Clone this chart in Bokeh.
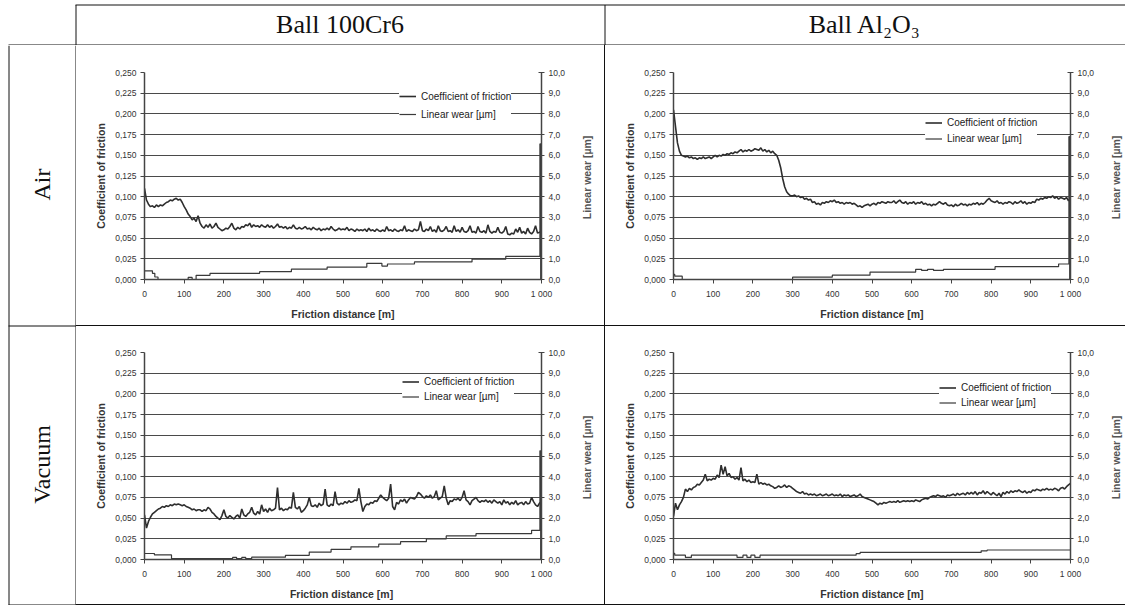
import math
from bokeh.plotting import figure
from bokeh.models import Range1d, LinearAxis, FixedTicker, Legend, LegendItem, Spacer
from bokeh.layouts import row, column
from bokeh.embed import file_html
from bokeh.resources import INLINE
from bokeh.core.properties import value

# ---------------- data ----------------
distance_m = list(range(0, 1001, 5))

cof_air_100cr6 = [
    0.110, 0.096, 0.091, 0.088, 0.089, 0.087, 0.090, 0.088, 0.090, 0.089,
    0.091, 0.093, 0.094, 0.096, 0.095, 0.097, 0.098, 0.096, 0.097, 0.093,
    0.088, 0.084, 0.079, 0.076, 0.072, 0.074, 0.070, 0.077, 0.068, 0.064,
    0.062, 0.066, 0.063, 0.067, 0.062, 0.064, 0.068, 0.063, 0.061, 0.059,
    0.060, 0.062, 0.061, 0.064, 0.068, 0.062, 0.060, 0.063, 0.061, 0.064,
    0.063, 0.066, 0.065, 0.068, 0.063, 0.066, 0.064, 0.065, 0.063, 0.066,
    0.064, 0.063, 0.066, 0.063, 0.065, 0.062, 0.064, 0.067, 0.063, 0.064,
    0.062, 0.064, 0.061, 0.063, 0.062, 0.066, 0.062, 0.061, 0.063, 0.061,
    0.062, 0.064, 0.061, 0.062, 0.060, 0.063, 0.061, 0.060, 0.062, 0.059,
    0.061, 0.060, 0.062, 0.060, 0.064, 0.061, 0.059, 0.060, 0.062, 0.060,
    0.061, 0.060, 0.063, 0.059, 0.061, 0.060, 0.058, 0.061, 0.059, 0.060,
    0.059, 0.061, 0.058, 0.062, 0.059, 0.060, 0.058, 0.061, 0.059, 0.058,
    0.060, 0.058, 0.064, 0.059, 0.060, 0.058, 0.061, 0.059, 0.058, 0.060,
    0.059, 0.065, 0.058, 0.060, 0.059, 0.058, 0.061, 0.059, 0.060, 0.070,
    0.059, 0.058, 0.061, 0.059, 0.064, 0.058, 0.060, 0.057, 0.065, 0.059,
    0.058, 0.060, 0.064, 0.058, 0.059, 0.057, 0.065, 0.058, 0.060, 0.057,
    0.063, 0.058, 0.057, 0.059, 0.065, 0.057, 0.058, 0.056, 0.064, 0.058,
    0.057, 0.059, 0.056, 0.066, 0.058, 0.056, 0.058, 0.057, 0.063, 0.057,
    0.056, 0.058, 0.064, 0.055, 0.054, 0.056, 0.055, 0.061, 0.057, 0.063,
    0.056, 0.058, 0.055, 0.062, 0.057, 0.055, 0.058, 0.065, 0.056, 0.057,
    0.058,
]

cof_air_al2o3 = [
    0.205, 0.185, 0.165, 0.155, 0.150, 0.149, 0.148, 0.149, 0.147, 0.148,
    0.146, 0.147, 0.145, 0.147, 0.146, 0.148, 0.146, 0.147, 0.148, 0.146,
    0.148, 0.150, 0.148, 0.150, 0.149, 0.151, 0.150, 0.152, 0.151, 0.153,
    0.152, 0.154, 0.153, 0.155, 0.157, 0.154, 0.156, 0.155, 0.157, 0.155,
    0.156, 0.158, 0.157, 0.156, 0.159, 0.155, 0.157, 0.154, 0.156, 0.153,
    0.155, 0.152, 0.150, 0.144, 0.135, 0.122, 0.112, 0.106, 0.103, 0.101,
    0.101, 0.102, 0.100, 0.101, 0.099, 0.100, 0.097, 0.098, 0.096, 0.097,
    0.093, 0.094, 0.091, 0.092, 0.090, 0.093, 0.092, 0.094, 0.093, 0.095,
    0.094, 0.096, 0.093, 0.094, 0.092, 0.093, 0.091, 0.093, 0.092, 0.093,
    0.091, 0.092, 0.090, 0.088, 0.089, 0.087, 0.089, 0.090, 0.091, 0.089,
    0.091, 0.092, 0.090, 0.093, 0.092, 0.094, 0.093, 0.092, 0.094, 0.093,
    0.093, 0.095, 0.092, 0.094, 0.096, 0.093, 0.092, 0.094, 0.091, 0.093,
    0.092, 0.094, 0.091, 0.093, 0.092, 0.094, 0.091, 0.092, 0.090, 0.091,
    0.089, 0.091, 0.090, 0.092, 0.094, 0.092, 0.091, 0.093, 0.090, 0.089,
    0.090, 0.088, 0.091, 0.089, 0.090, 0.092, 0.090, 0.091, 0.089, 0.091,
    0.090, 0.092, 0.091, 0.093, 0.090, 0.092, 0.091, 0.093, 0.096, 0.098,
    0.095, 0.094, 0.093, 0.095, 0.092, 0.093, 0.091, 0.093, 0.092, 0.094,
    0.093, 0.091, 0.094, 0.092, 0.093, 0.095, 0.092, 0.094, 0.091, 0.093,
    0.092, 0.094, 0.093, 0.097, 0.096, 0.098, 0.097, 0.099, 0.098, 0.100,
    0.099, 0.101, 0.098, 0.100, 0.097, 0.099, 0.098, 0.097, 0.099, 0.095,
    0.098,
]

cof_vac_100cr6 = [
    0.054, 0.038, 0.046, 0.051, 0.055, 0.057, 0.059, 0.061, 0.062, 0.064,
    0.063, 0.065, 0.064, 0.066, 0.065, 0.067, 0.066, 0.067, 0.066, 0.065,
    0.066, 0.064, 0.063, 0.062, 0.060, 0.061, 0.059, 0.060, 0.060, 0.058,
    0.060, 0.059, 0.063, 0.061, 0.057, 0.055, 0.052, 0.050, 0.048, 0.053,
    0.060, 0.052, 0.050, 0.053, 0.051, 0.049, 0.052, 0.054, 0.050, 0.061,
    0.054, 0.052, 0.055, 0.057, 0.063, 0.056, 0.054, 0.058, 0.055, 0.066,
    0.058, 0.061, 0.057, 0.062, 0.059, 0.060, 0.062, 0.087, 0.060, 0.062,
    0.059, 0.061, 0.060, 0.063, 0.062, 0.081, 0.063, 0.061, 0.064, 0.057,
    0.059, 0.062, 0.066, 0.075, 0.065, 0.064, 0.066, 0.063, 0.068, 0.065,
    0.067, 0.085, 0.066, 0.064, 0.067, 0.065, 0.082, 0.068, 0.066, 0.068,
    0.067, 0.070, 0.068, 0.071, 0.069, 0.070, 0.072, 0.071, 0.086, 0.070,
    0.058, 0.064, 0.067, 0.066, 0.069, 0.068, 0.071, 0.070, 0.074, 0.078,
    0.075, 0.073, 0.071, 0.074, 0.091, 0.064, 0.060, 0.069, 0.067, 0.072,
    0.070, 0.073, 0.068, 0.072, 0.075, 0.074, 0.073, 0.076, 0.081, 0.079,
    0.076, 0.074, 0.077, 0.075, 0.078, 0.074, 0.076, 0.083, 0.072, 0.074,
    0.076, 0.089, 0.074, 0.066, 0.071, 0.070, 0.073, 0.072, 0.074, 0.071,
    0.075, 0.083, 0.072, 0.070, 0.066, 0.071, 0.073, 0.075, 0.071, 0.069,
    0.071, 0.070, 0.072, 0.069, 0.071, 0.068, 0.072, 0.070, 0.068, 0.070,
    0.066, 0.072, 0.068, 0.070, 0.066, 0.069, 0.067, 0.071, 0.066, 0.068,
    0.069, 0.066, 0.070, 0.067, 0.068, 0.075, 0.070, 0.066, 0.064, 0.068,
    0.070,
]

cof_vac_al2o3 = [
    0.052, 0.068, 0.060, 0.066, 0.070, 0.075, 0.085, 0.082, 0.086, 0.084,
    0.087, 0.088, 0.091, 0.090, 0.093, 0.096, 0.103, 0.095, 0.097, 0.096,
    0.098, 0.097, 0.102, 0.099, 0.114, 0.103, 0.112, 0.101, 0.104, 0.099,
    0.100, 0.097, 0.099, 0.096, 0.111, 0.095, 0.097, 0.094, 0.096, 0.093,
    0.094, 0.093, 0.103, 0.091, 0.093, 0.091, 0.092, 0.090, 0.091, 0.089,
    0.088, 0.086, 0.087, 0.089, 0.087, 0.088, 0.090, 0.087, 0.089, 0.088,
    0.086, 0.084, 0.082, 0.081, 0.080, 0.082, 0.079, 0.080, 0.078, 0.079,
    0.078, 0.079, 0.077, 0.078, 0.079, 0.077, 0.078, 0.079, 0.077, 0.078,
    0.079, 0.077, 0.078, 0.077, 0.079, 0.076, 0.078, 0.077, 0.078, 0.076,
    0.077, 0.078, 0.076, 0.077, 0.079, 0.076, 0.075, 0.074, 0.073, 0.072,
    0.071, 0.070, 0.068, 0.066, 0.068, 0.067, 0.069, 0.068, 0.069, 0.070,
    0.069, 0.070, 0.069, 0.071, 0.069, 0.070, 0.071, 0.070, 0.071, 0.070,
    0.071, 0.070, 0.072, 0.071, 0.070, 0.072, 0.073, 0.074, 0.073, 0.075,
    0.076, 0.077, 0.076, 0.078, 0.077, 0.076, 0.077, 0.075, 0.078, 0.077,
    0.078, 0.079, 0.077, 0.080, 0.078, 0.079, 0.080, 0.078, 0.081, 0.079,
    0.081, 0.079, 0.082, 0.078, 0.081, 0.080, 0.083, 0.079, 0.082, 0.080,
    0.078, 0.081, 0.079, 0.077, 0.080, 0.076, 0.081, 0.079, 0.082, 0.080,
    0.083, 0.081, 0.083, 0.082, 0.084, 0.082, 0.081, 0.083, 0.080, 0.082,
    0.081, 0.084, 0.083, 0.085, 0.084, 0.083, 0.085, 0.084, 0.086, 0.084,
    0.085, 0.084, 0.086, 0.085, 0.083, 0.086, 0.087, 0.085, 0.088, 0.090,
    0.092,
]

wear_air_100cr6_x = [0, 20, 26, 34, 110, 120, 130, 165, 290, 370, 460, 560, 598, 612, 680, 825, 910, 996, 998, 1000]
wear_air_100cr6_y = [0.42, 0.30, 0.12, 0.0, 0.10, 0.0, 0.20, 0.30, 0.38, 0.50, 0.60, 0.78, 0.65, 0.75, 0.85, 0.98, 1.12, 6.55, 0.0, 0.0]

wear_air_al2o3_x = [0, 3, 22, 300, 400, 495, 610, 625, 640, 655, 680, 810, 970, 996, 998, 1000]
wear_air_al2o3_y = [0.25, 0.16, 0.0, 0.11, 0.21, 0.36, 0.49, 0.44, 0.49, 0.44, 0.49, 0.62, 0.75, 6.9, 0.0, 0.0]

wear_vac_100cr6_x = [0, 25, 68, 222, 232, 245, 255, 270, 355, 415, 470, 520, 590, 645, 710, 760, 835, 975, 996, 998, 1000]
wear_vac_100cr6_y = [0.29, 0.22, 0.04, 0.10, 0.04, 0.10, 0.04, 0.11, 0.20, 0.36, 0.49, 0.61, 0.74, 0.86, 0.99, 1.14, 1.25, 1.41, 5.25, 0.0, 0.0]

wear_vac_al2o3_x = [0, 3, 30, 45, 160, 175, 185, 195, 205, 218, 460, 470, 775, 790, 1000]
wear_vac_al2o3_y = [0.30, 0.21, 0.10, 0.21, 0.10, 0.21, 0.10, 0.21, 0.10, 0.21, 0.28, 0.34, 0.42, 0.46, 0.46]

cof_ticks = [0.0, 0.025, 0.05, 0.075, 0.1, 0.125, 0.15, 0.175, 0.2, 0.225, 0.25]
cof_tick_labels = ["0,000", "0,025", "0,050", "0,075", "0,100", "0,125", "0,150", "0,175", "0,200", "0,225", "0,250"]
wear_ticks = [0, 1, 2, 3, 4, 5, 6, 7, 8, 9, 10]
wear_tick_labels = ["0,0", "1,0", "2,0", "3,0", "4,0", "5,0", "6,0", "7,0", "8,0", "9,0", "10,0"]
dist_ticks = [0, 100, 200, 300, 400, 500, 600, 700, 800, 900, 1000]
dist_tick_labels = ["0", "100", "200", "300", "400", "500", "600", "700", "800", "900", "1 000"]

column_titles = ["Ball 100Cr6", "Ball Al\u2082O\u2083"]
row_titles = ["Air", "Vacuum"]
legend_labels = ["Coefficient of friction", "Linear wear [\u00b5m]"]
cof_axis_label = "Coefficient of friction"
wear_axis_label = "Linear wear  [\u00b5m]"

# ---------------- style ----------------
SANS = "Liberation Sans"
SERIF = "Liberation Serif"
INK = "#333333"
RULE = "#111111"


def chart(cof, wx, wy, w, h, ml, mr, mt, mb, xlabel, leg):
    p = figure(width=w, height=h, x_range=Range1d(0, 1000), y_range=Range1d(0, 0.25),
               output_backend="svg", toolbar_location=None,
               min_border_left=ml, min_border_right=mr, min_border_top=mt, min_border_bottom=mb)
    p.extra_y_ranges = {"wear": Range1d(0, 10)}
    p.outline_line_color = None
    p.border_fill_color = "white"
    p.background_fill_color = "white"
    p.xgrid.visible = False
    p.ygrid.ticker = FixedTicker(ticks=cof_ticks)
    p.ygrid.grid_line_color = "#4a4a4a"
    p.ygrid.grid_line_width = 1

    xa = p.xaxis[0]
    xa.ticker = FixedTicker(ticks=dist_ticks)
    xa.major_label_overrides = dict(zip(dist_ticks, dist_tick_labels))
    xa.axis_label = xlabel
    xa.major_tick_out = 4
    xa.major_tick_in = 0
    xa.minor_tick_line_color = None
    xa.major_label_standoff = 5
    xa.axis_label_standoff = 6

    ya = p.yaxis[0]
    ya.ticker = FixedTicker(ticks=cof_ticks)
    ya.major_label_overrides = dict(zip(cof_ticks, cof_tick_labels))
    ya.axis_label = cof_axis_label
    ya.major_tick_out = 4
    ya.major_tick_in = 0
    ya.minor_tick_line_color = None
    ya.major_label_standoff = 4
    ya.axis_label_standoff = 5

    ra = LinearAxis(y_range_name="wear", ticker=FixedTicker(ticks=wear_ticks),
                    major_label_overrides=dict(zip(wear_ticks, wear_tick_labels)))
    ra.major_tick_out = 3
    ra.major_tick_in = 3
    ra.minor_tick_line_color = None
    ra.major_label_standoff = 4
    p.add_layout(ra, "right")

    for ax in (xa, ya, ra):
        ax.axis_line_color = "#444444"
        ax.axis_line_width = 1.5
        ax.major_tick_line_color = "#444444"
        ax.major_label_text_font = SANS
        ax.major_label_text_font_size = "8.5px"
        ax.major_label_text_color = INK
        ax.axis_label_text_font = SANS
        ax.axis_label_text_font_size = "10.5px"
        ax.axis_label_text_font_style = "bold"
        ax.axis_label_text_color = INK

    r1 = p.line(distance_m, cof, line_color="#2e2e2e", line_width=1.6)
    r2 = p.step(wx, wy, mode="after", y_range_name="wear", line_color="#3a3a3a", line_width=1.2)

    lx, ly, lh, sp, pad = leg
    legend = Legend(items=[LegendItem(label=legend_labels[0], renderers=[r1]),
                           LegendItem(label=legend_labels[1], renderers=[r2])],
                    location=(lx, ly), background_fill_color="white", background_fill_alpha=1.0,
                    border_line_color=None, label_text_font=SANS, label_text_font_size="10px",
                    label_text_color="#222222", glyph_width=17, glyph_height=lh, label_height=lh,
                    label_standoff=5, spacing=sp, padding=pad, margin=0)
    p.add_layout(legend)
    return p


def plain(w, h, xr, yr):
    p = figure(width=w, height=h, x_range=xr, y_range=yr,
               x_axis_type=None, y_axis_type=None, output_backend="svg", toolbar_location=None,
               min_border=0, min_border_left=0, min_border_right=0, min_border_top=0, min_border_bottom=0)
    p.outline_line_color = None
    p.background_fill_color = "white"
    p.border_fill_color = "white"
    return p


def rule(w, h):
    return Spacer(width=w, height=h, margin=0, styles={"background-color": RULE})


# header strip: table frame lines and column titles (pixel coordinates)
hdr = plain(1125, 45, Range1d(0, 1125), Range1d(0, 45))
hdr.segment(x0=[75, 8, 75.5, 604.5], y0=[40.5, 0.5, 0, 0],
            x1=[1125, 1125, 75.5, 604.5], y1=[40.5, 0.5, 40.5, 40.5],
            line_color=RULE, line_width=1)
hdr.text(x=[339.5, 864.5], y=[21, 21], text=column_titles, text_align="center",
         text_baseline="middle", text_font=value(SERIF), text_font_size="26px", text_color="#111111")

# left column: row titles and table frame lines (pixel coordinates, y measured up from page bottom)
side = plain(76, 560, Range1d(0, 76), Range1d(0, 560))
side.segment(x0=[8.5, 75.5, 8, 8], y0=[0, 0, 279.5, 0.5],
             x1=[8.5, 75.5, 76, 76], y1=[560, 560, 279.5, 0.5],
             line_color=RULE, line_width=1)
side.text(x=[41, 41], y=[421, 141], text=row_titles, angle=math.pi / 2, text_align="center",
          text_baseline="middle", text_font=value(SERIF), text_font_size="24px", text_color="#111111")


def wear_label(w, h, xc):
    p = plain(w, h, Range1d(0, w), Range1d(0, 1))
    p.text(x=[xc], y=[0.5], text=[wear_axis_label], angle=math.pi / 2, text_align="center",
           text_baseline="middle", text_font=value(SANS), text_font_size="10.5px",
           text_font_style="bold", text_color="#555555")
    return p


c11 = chart(cof_air_100cr6, wear_air_100cr6_x, wear_air_100cr6_y, 500, 280, 68, 35, 27, 46,
            "Friction distance [m]", (255, 157, 16, 2, 6))
c12 = chart(cof_air_al2o3, wear_air_al2o3_x, wear_air_al2o3_y, 492, 280, 68, 27, 27, 46,
            "Friction distance [m]", (252, 133, 15, 1, 1))
c21 = chart(cof_vac_100cr6, wear_vac_100cr6_x, wear_vac_100cr6_y, 500, 278, 68, 35, 26, 45,
            "Friction distance  [m]", (258, 156, 13, 2, 0))
c22 = chart(cof_vac_al2o3, wear_vac_al2o3_x, wear_vac_al2o3_y, 492, 278, 68, 27, 26, 45,
            "Friction distance [m]", (266, 149, 15, 0, 3))

body = column(
    row(c11, wear_label(28, 280, 10.6), rule(1, 280), c12, wear_label(28, 280, 18.6)),
    rule(1049, 1),
    row(c21, wear_label(28, 278, 10.6), rule(1, 278), c22, wear_label(28, 278, 18.6)),
    rule(1049, 1),
)

layout = column(hdr, row(side, body))

open("out.html", "w").write(file_html(layout, INLINE))
